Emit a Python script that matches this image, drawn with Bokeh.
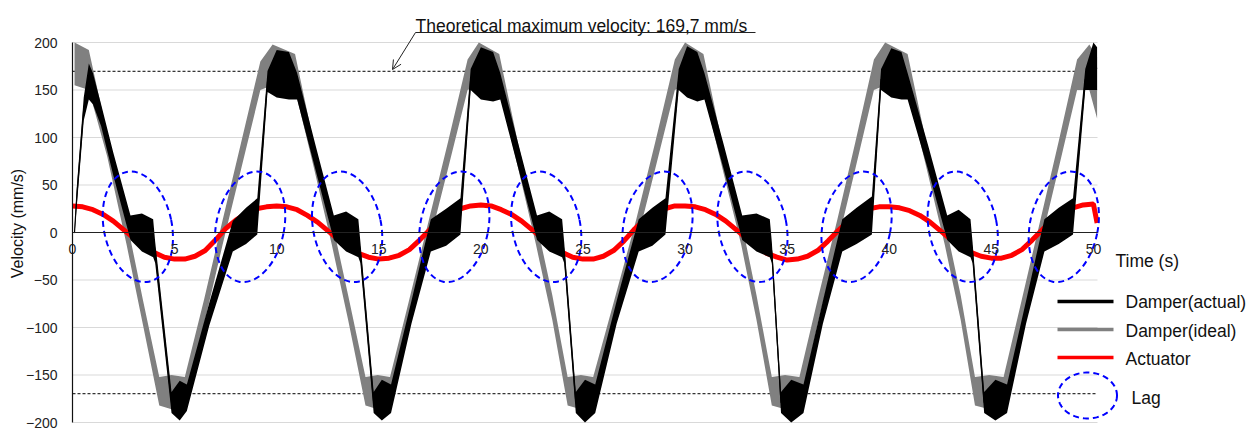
import numpy as np
from bokeh.plotting import figure
from bokeh.models import Label, Arrow, OpenHead, PolyAnnotation, FixedTicker, Range1d
from bokeh.embed import file_html
from bokeh.resources import INLINE

# ---------------- data ----------------
# Damper (actual): lower / upper extent of the noisy trace at key times (s)
black_t = [0.10, 0.20, 0.55, 0.80, 1.00, 1.40, 2.00, 2.84, 3.40, 3.95, 4.05, 4.85, 5.25, 5.60, 6.70, 7.85, 8.50, 9.05, 9.55, 10.0, 10.6,
           11.0, 11.9, 12.8, 13.4, 14.0, 14.1, 14.75, 15.15, 15.6, 16.6, 17.55, 18.3, 19.0, 19.5, 20.0, 20.6,
           20.95, 21.85, 22.75, 23.35, 23.98, 24.08, 24.65, 25.1, 25.6, 26.65, 27.73, 28.4, 29.04, 29.69, 30.1, 30.6,
           30.95, 31.9, 32.8, 33.5, 34.15, 34.25, 34.7, 35.2, 35.8, 36.75, 37.7, 38.4, 39.15, 39.6, 40.1, 40.6,
           40.9, 41.9, 42.84, 43.4, 43.98, 44.08, 44.65, 45.2, 45.77, 46.7, 47.6, 48.3, 49.0, 49.6, 50.0, 50.18]
black_lo = [-2, 25, 118, 140, 135, 112, 60, -8, -20, -26, -32, -190, -198, -188, -98, -20, -12, -2, 148, 142, 140,
            140, 66, -8, -20, -26, -32, -190, -198, -190, -96, -20, -14, -2, 150, 140, 138,
            140, 66, -8, -20, -26, -32, -190, -200, -190, -96, -20, -14, -2, 150, 142, 138,
            140, 66, -8, -20, -26, -32, -190, -200, -190, -96, -20, -12, -2, 150, 142, 140,
            140, 66, -8, -20, -26, -32, -190, -198, -190, -96, -20, -12, -2, 150, 150, 150]
black_hi = [3, 45, 142, 178, 168, 135, 84, 18, 20, 14, -10, -168, -156, -160, -74, 12, 26, 36, 170, 192, 190,
            168, 92, 18, 22, 14, -10, -168, -155, -160, -72, 14, 25, 36, 172, 195, 190,
            168, 92, 18, 22, 14, -10, -168, -155, -160, -72, 14, 26, 36, 172, 196, 190,
            168, 92, 18, 20, 14, -10, -168, -155, -160, -72, 14, 26, 38, 172, 194, 190,
            168, 92, 18, 24, 14, -10, -168, -155, -160, -72, 14, 26, 36, 172, 200, 195]

# Damper (ideal)
gray_t = [0.10, 0.80, 1.70, 2.65, 3.45, 4.25, 4.85, 5.50, 6.45, 7.35, 8.25, 9.20, 9.80,
          10.9, 11.8, 12.7, 13.5, 14.35, 14.95, 15.55, 16.5, 17.45, 18.4, 19.35, 19.9,
          20.9, 21.8, 22.7, 23.5, 24.25, 24.9, 25.5, 26.55, 27.6, 28.55, 29.5, 30.0,
          30.9, 31.8, 32.75, 33.5, 34.25, 34.9, 35.6, 36.5, 37.45, 38.35, 39.25, 39.8,
          40.9, 41.8, 42.72, 43.5, 44.2, 44.9, 45.6, 46.5, 47.4, 48.3, 49.2, 49.8, 50.18]
gray_lo = [155, 150, 80, -13, -97, -182, -186, -185, -96, -13, 66, 150, 155,
           150, 70, -13, -92, -182, -186, -185, -96, -13, 68, 150, 155,
           150, 70, -13, -92, -182, -186, -185, -96, -13, 68, 150, 155,
           150, 70, -13, -92, -182, -186, -185, -96, -13, 68, 150, 155,
           150, 70, -13, -92, -182, -186, -185, -96, -13, 68, 150, 150, 120]
gray_hi = [200, 192, 104, 13, -71, -152, -150, -152, -70, 13, 94, 180, 198,
           188, 96, 13, -66, -152, -150, -152, -70, 13, 96, 182, 200,
           188, 96, 13, -66, -152, -150, -152, -70, 13, 96, 182, 200,
           188, 96, 13, -66, -152, -150, -152, -70, 13, 96, 182, 200,
           188, 96, 13, -66, -152, -150, -152, -70, 13, 96, 182, 198, 185]

# Actuator, sampled every 0.5 s
red_t = [round(0.5 * i, 2) for i in range(101)] + [50.18]
red_v = [28, 27, 24, 19, 12, 3, -6, -14, -21, -26, -28, -28, -25, -19, -8, 4, 13, 20, 25, 27,
         28, 27, 24, 18, 11, 2, -7, -15, -22, -26, -28, -27, -24, -18, -8, 3, 13, 21, 25, 28,
         29, 28, 24, 19, 12, 3, -6, -14, -21, -26, -28, -28, -25, -19, -9, 3, 13, 20, 25, 28,
         28, 27, 24, 19, 12, 3, -6, -15, -22, -26, -29, -28, -25, -19, -9, 2, 12, 20, 25, 27,
         27, 26, 23, 18, 11, 2, -7, -15, -21, -25, -27, -27, -24, -18, -8, 3, 13, 20, 26, 29,
         30, 10]

# Lag markers (centre time, centre velocity)
lag_t = [3.2, 8.7, 13.45, 18.7, 23.2, 28.65, 33.3, 38.4, 43.6, 48.55]
lag_v = [6, 6, 6, 6, 6, 6, 6, 6, 6, 6]

THEORETICAL_MAX = 169.7
T_END = 50.2
x_ticks = [0, 5, 10, 15, 20, 25, 30, 35, 40, 45, 50]
y_ticks = [-200, -150, -100, -50, 0, 50, 100, 150, 200]
y_tick_labels = ["\u2212200", "\u2212150", "\u2212100", "\u221250", "0", "50", "100", "150", "200"]

# ---------------- layout (pixels) ----------------
W, H = 1256, 431
PX_T0, PX_TEND = 72, 1097      # x pixel of t = 0 and t = T_END
PY_TOP, PY_BOT = 42, 422       # y pixel of +200 and -200
kx = (PX_TEND - PX_T0) / T_END
ky = (PY_BOT - PY_TOP) / 400.0
x_lo = -PX_T0 / kx
x_hi = x_lo + W / kx
y_hi = 200 + PY_TOP / ky
y_lo = y_hi - H / ky

FONT = "Liberation Sans"
p = figure(width=W, height=H, output_backend="svg", toolbar_location=None,
           x_range=Range1d(x_lo, x_hi), y_range=Range1d(y_lo, y_hi),
           min_border=0, min_border_left=0, min_border_right=0,
           min_border_top=0, min_border_bottom=0)
p.outline_line_color = None
p.xgrid.visible = False
p.ygrid.visible = False

# horizontal grid lines, limited to the recorded time span
p.segment(x0=[0] * len(y_ticks), x1=[T_END] * len(y_ticks), y0=y_ticks, y1=y_ticks,
          line_color="#d9d9d9", line_width=1)
# theoretical maximum velocity lines
p.segment(x0=[0, 0], x1=[T_END, T_END], y0=[THEORETICAL_MAX, -THEORETICAL_MAX],
          y1=[THEORETICAL_MAX, -THEORETICAL_MAX], line_color="black", line_width=1, line_dash="3 2")

ya = p.yaxis[0]
ya.fixed_location = 0
ya.bounds = (-200, 200)
ya.ticker = FixedTicker(ticks=y_ticks)
ya.major_label_overrides = {v: s for v, s in zip(y_ticks, y_tick_labels)}
ya.major_tick_line_color = None
ya.minor_tick_line_color = None
ya.major_tick_out = 0
ya.major_tick_in = 0
ya.major_label_standoff = 15
ya.major_label_text_font = FONT
ya.major_label_text_font_size = "14px"
ya.major_label_text_color = "#222222"
ya.axis_line_color = "#111111"
ya.axis_line_width = 1.2

xa = p.xaxis[0]
xa.fixed_location = 0
xa.bounds = (0, T_END)
xa.ticker = FixedTicker(ticks=x_ticks)
xa.major_tick_line_color = None
xa.minor_tick_line_color = None
xa.major_tick_out = 0
xa.major_tick_in = 0
xa.major_label_standoff = 11
xa.major_label_text_font = FONT
xa.major_label_text_font_size = "14px"
xa.major_label_text_color = "#222222"
xa.axis_line_color = "#222222"
xa.axis_line_width = 1.2

# series
p.varea(x=gray_t, y1=gray_lo, y2=gray_hi, fill_color="#808080")
p.line(x=red_t, y=red_v, line_color="#ff0000", line_width=5)
p.varea(x=black_t, y1=black_lo, y2=black_hi, fill_color="black")
p.line(x=black_t, y=[(a + b) / 2 for a, b in zip(black_lo, black_hi)], line_color="black", line_width=1.2)

lag_angle = [0.2 if i % 2 == 0 else -0.2 for i in range(len(lag_t))]
p.ellipse(x=lag_t, y=lag_v, width=68 / kx, height=112 / ky, angle=lag_angle,
          fill_color=None, line_color="#0000ff", line_width=2, line_dash="6 4")


# ---------------- annotations (screen units; frame = whole canvas) ----------------
def add_text(txt, px, py, size="17.5px", angle=0.0, align="left", baseline="alphabetic"):
    p.add_layout(Label(x=px, y=H - py, x_units="screen", y_units="screen", text=txt, angle=angle,
                       text_font=FONT, text_font_size=size, text_color="#111111",
                       text_baseline=baseline, text_align=align))


def add_seg(x0, y0, x1, y1, color, width, head=None):
    p.add_layout(Arrow(end=head, x_start=x0, y_start=H - y0, x_end=x1, y_end=H - y1,
                       start_units="screen", end_units="screen",
                       line_color=color, line_width=width))


add_text("Velocity (mm/s)", 17, 223, size="16px", angle=np.pi / 2, align="center", baseline="middle")

title_txt = "Theoretical maximum velocity: " + f"{THEORETICAL_MAX:.1f}".replace(".", ",") + " mm/s"
add_text(title_txt, 415, 25)
add_seg(415, 32, 755, 32, "#222222", 1)
add_seg(415, 32, 392, 69, "#222222", 1, OpenHead(size=9, line_color="#222222", line_width=1))

add_text("Time (s)", 1115, 260)

legend_rows = [("Damper(actual)", "black", 301, 301.5), ("Damper(ideal)", "#808080", 329, 330),
               ("Actuator", "#ff0000", 357, 358)]
for lab, col, ly, ty in legend_rows:
    add_seg(1057, ly, 1113, ly, col, 3.5)
    add_text(lab, 1125, ty)

th = np.linspace(0, 2 * np.pi, 91)
p.add_layout(PolyAnnotation(xs=list(1087 + 29.5 * np.cos(th)), ys=list(H - (395 + 23 * np.sin(th))),
                            xs_units="screen", ys_units="screen", fill_alpha=0, line_alpha=1,
                            line_color="#0000ff", line_width=2, line_dash="6 4"))
add_text("Lag", 1131, 397)

open("out.html", "w").write(file_html(p, INLINE))
